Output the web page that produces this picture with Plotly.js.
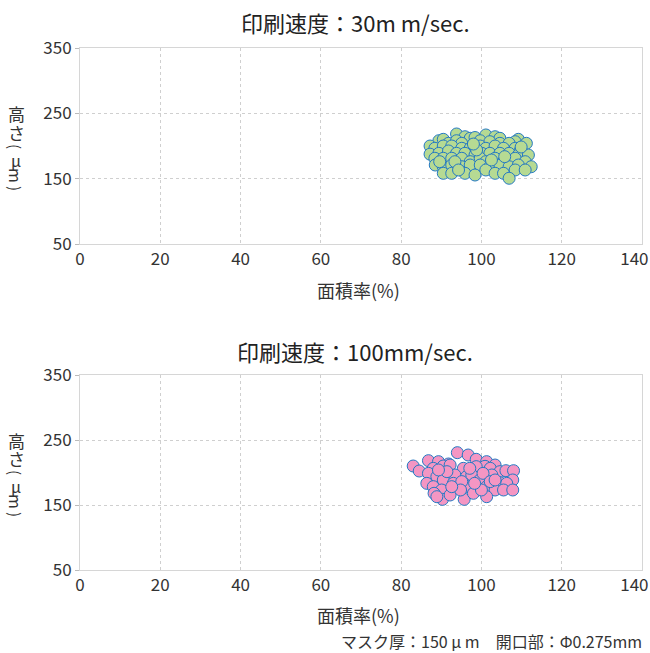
<!DOCTYPE html>
<html>
<head>
<meta charset="utf-8">
<script src="https://cdn.plot.ly/plotly-3.0.1.min.js"></script>
<style>body{margin:0;background:#fff}#chart{width:650px;height:653px}</style>
</head>
<body>
<div id="chart"></div>
<script>
// Data
var titleTop = "印刷速度：30m m/sec.";
var titleBottom = "印刷速度：100mm/sec.";
var xAxisTitle = "面積率(%)";
var footerText = "マスク厚：150 μ m　開口部：Φ0.275mm";
var xTicks = [0, 20, 40, 60, 80, 100, 120, 140];
var yTicks = [50, 150, 250, 350];

var speed30X = [93.8,95.9,97.2,98.4,101.1,103.4,104.6,109.2,108.4,89.4,90.5,91.8,93.8,95.1,99.7,102.1,104.6,106.9,111.2,
  87.2,88.4,90.5,92.6,95.1,97.2,99.7,101.1,103.4,105.5,108.4,109.6,87.2,89.4,91.8,93.8,95.9,98.4,100.1,102.1,104.6,106.9,109.2,111.7,
  88.4,90.5,92.6,95.1,97.2,99.7,101.1,103.4,105.5,108.4,110.9,88.5,90.5,92.6,95.1,97.2,99.7,102.1,104.6,106.9,109.2,112.4,
  90.5,92.6,95.9,98.4,101.1,103.4,105.5,108.4,110.9,106.9,93.4,98.8,102.5,105.8,94.3,89.6,109.9,98.0];
var speed30Y = [218.4,214.2,211.8,213.0,216.9,214.2,211.8,210.2,206.6,208.1,210.2,204.1,208.1,204.1,208.1,206.6,204.1,204.1,204.1,
  200.0,196.5,200.0,200.0,196.5,196.5,200.0,196.5,200.0,196.5,196.5,192.4,187.5,188.8,192.4,188.8,188.8,186.2,188.8,188.8,188.8,188.8,186.2,186.2,
  181.2,181.2,181.2,181.2,176.0,181.2,176.0,181.2,176.0,181.2,176.0,170.9,168.3,170.9,168.3,170.9,170.9,168.3,170.9,168.3,170.9,168.3,
  158.2,158.2,158.2,155.6,163.3,158.2,158.2,163.3,163.3,150.6,176.0,194.0,178.6,183.7,163.3,176.0,198.5,203.0];

var speed100X = [94.0,96.7,98.7,86.8,89.3,91.8,101.3,103.4,100.9,83.0,84.5,88.0,90.5,92.2,95.5,98.7,102.2,104.6,106.1,108.0,
  86.8,88.9,90.5,93.4,96.3,97.6,99.6,102.6,104.6,107.8,106.3,86.4,88.0,90.1,93.0,96.3,98.7,101.3,103.4,105.5,107.8,
  88.2,90.3,92.2,95.7,98.0,101.3,100.0,95.1,91.4,100.4,102.2,94.8,88.9,97.1,103.4,92.6,98.3,89.3];
var speed100Y = [230.5,226.9,220.3,218.2,216.7,213.1,216.7,211.5,209.5,210.0,202.3,206.4,210.0,211.5,206.4,209.0,206.4,201.3,202.8,202.8,
  198.7,193.6,188.5,196.2,193.6,196.2,188.5,196.2,184.4,188.5,183.3,183.3,178.2,173.1,183.3,178.2,173.1,178.2,173.1,173.1,173.1,
  168.0,158.7,165.4,158.7,168.0,162.8,173.1,186.0,201.3,198.7,186.0,173.1,162.8,206.4,188.5,178.2,183.3,203.9];

var CJK = "'Noto Sans CJK JP', sans-serif";
var markerLine = {color: "#2479c3", width: 1};

var traces = [
  {x: speed30X, y: speed30Y, type: "scatter", mode: "markers", xaxis: "x", yaxis: "y",
   marker: {size: 12, color: "#b6da93", line: markerLine}, hoverinfo: "x+y"},
  {x: speed100X, y: speed100Y, type: "scatter", mode: "markers", xaxis: "x2", yaxis: "y2",
   marker: {size: 12, color: "#f496c3", line: markerLine}, hoverinfo: "x+y"}
];

var gridStyle = {showgrid: true, gridcolor: "#cfcfcf", griddash: "3px,3px", gridwidth: 1, zeroline: false,
  showline: true, linecolor: "#d6d6d6", linewidth: 1, mirror: true};
function xTickText() {
  // last label is kept inside the canvas (as in the reference) by padding it with no-break spaces
  return xTicks.map(function (v, i) { return i === xTicks.length - 1 ? String(v) + "\u00a0\u00a0\u00a0\u00a0" : String(v); });
}
function xAx(anchor) {
  return Object.assign({anchor: anchor, domain: [0, 1], range: [0, 140], tickvals: xTicks, ticktext: xTickText(),
    ticks: "", ticklabeloverflow: "allow", tickfont: {family: CJK, size: 17, color: "#333"}, fixedrange: true}, gridStyle);
}
function yAx(anchor, dom) {
  return Object.assign({anchor: anchor, domain: dom, range: [50, 350], tickvals: yTicks, ticktext: yTicks.map(String),
    ticks: "outside", ticklen: 4, tickcolor: "#bbb",
    tickfont: {family: CJK, size: 17, color: "#333"}, fixedrange: true}, gridStyle);
}

// plot area: x 80..642 px, y 48..570 px (paper)
var H = 522;
function py(p) { return (570 - p) / H; }
function px(p) { return (p - 80) / 562; }

var annotations = [
  {text: titleTop, x: px(355), y: py(22), xref: "paper", yref: "paper", showarrow: false, xanchor: "center", yanchor: "middle",
   font: {family: CJK, size: 22, color: "#222"}},
  {text: titleBottom, x: px(355), y: py(351), xref: "paper", yref: "paper", showarrow: false, xanchor: "center", yanchor: "middle",
   font: {family: CJK, size: 22, color: "#222"}},
  {text: xAxisTitle, x: px(358), y: py(290), xref: "paper", yref: "paper", showarrow: false, xanchor: "center", yanchor: "middle",
   font: {family: CJK, size: 18, color: "#333"}},
  {text: xAxisTitle, x: px(358), y: py(615), xref: "paper", yref: "paper", showarrow: false, xanchor: "center", yanchor: "middle",
   font: {family: CJK, size: 18, color: "#333"}},
  {text: footerText, x: px(644), y: py(641), xref: "paper", yref: "paper", showarrow: false, xanchor: "right", yanchor: "middle",
   font: {family: CJK, size: 16, color: "#333"}}
];

// vertical y-axis title: 高さ(μm) — CJK upright, Latin brackets and m turned
var yTitleChars = [
  {c: "高", dy: 0, rot: 0, s: 17}, {c: "さ", dy: 18, rot: 0, s: 17}, {c: "(", dy: 32, rot: 90, s: 15},
  {c: "μ", dy: 46, rot: 0, s: 16}, {c: "m", dy: 61, rot: 90, s: 16}, {c: ")", dy: 74, rot: 90, s: 15}
];
[114, 440].forEach(function (base) {
  yTitleChars.forEach(function (ch) {
    annotations.push({text: ch.c, x: px(16), y: py(base + ch.dy), xref: "paper", yref: "paper", showarrow: false,
      xanchor: "center", yanchor: "middle", textangle: ch.rot, borderpad: 0,
      font: {family: CJK, size: ch.s, color: "#333"}});
  });
});

var layout = {
  width: 650, height: 653,
  margin: {l: 80, r: 8, t: 48, b: 83, pad: 0},
  paper_bgcolor: "#fff", plot_bgcolor: "#fff",
  showlegend: false,
  xaxis: xAx("y"), yaxis: yAx("x", [py(244), 1]),
  xaxis2: xAx("y2"), yaxis2: yAx("x2", [0, py(375)]),
  annotations: annotations
};

Plotly.newPlot("chart", traces, layout, {displayModeBar: false, staticPlot: true});
</script>
</body>
</html>
